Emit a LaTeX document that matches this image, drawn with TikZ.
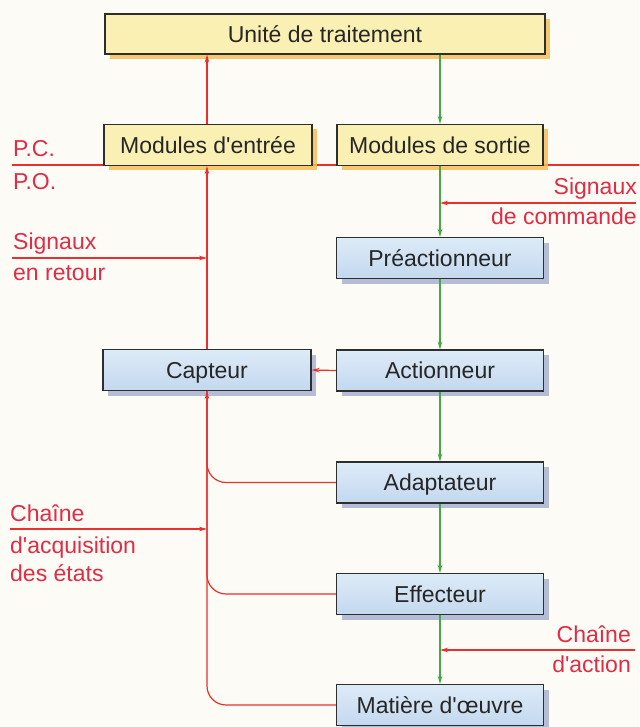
\documentclass[tikz,border=0pt]{standalone}
\usepackage{fontspec}
\setmainfont{Liberation Sans}
\usetikzlibrary{arrows.meta,shadows}
\newcommand{\apos}{\textquotesingle}
\definecolor{bg}{HTML}{FCFBF6}
\definecolor{yfill}{HTML}{FBF0B4}
\definecolor{yshad}{HTML}{F6BE55}
\definecolor{btop}{HTML}{DDEBF8}
\definecolor{bbot}{HTML}{C3D8EE}
\definecolor{bshad}{HTML}{A9B3CF}
\definecolor{rline}{HTML}{E8302E}
\definecolor{rtext}{HTML}{DE2D45}
\definecolor{gline}{HTML}{45A842}
\definecolor{boxline}{HTML}{2E2E2E}
\definecolor{boxtext}{HTML}{262626}
\begin{document}
\begin{tikzpicture}[x=1pt,y=-1pt,
  every node/.style={font=\fontsize{23}{27}\selectfont},
  boxtxt/.style={text=boxtext,inner sep=0pt,text height=16.5pt,text depth=0pt},
  ybox/.style={boxtxt,draw=boxline,line width=1.1pt,fill=yfill,
    drop shadow={shadow xshift=5pt,shadow yshift=-5pt,fill=yshad,opacity=.85}},
  bbox/.style={boxtxt,draw=boxline,line width=1.1pt,top color=btop,bottom color=bbot,
    minimum width=207pt,minimum height=41pt,
    drop shadow={shadow xshift=5pt,shadow yshift=-5pt,fill=bshad,opacity=.85}},
  rl/.style={draw=rline,line width=1.2pt},
  gl/.style={draw=gline,line width=1.2pt},
  tip/.style={-{Stealth[length=8pt,width=4.5pt]}},
  lab/.style={text=rtext,inner sep=0pt}
]
\useasboundingbox (0,0) rectangle (639,727);
\fill[bg] (0,0) rectangle (639,727);

% PC / PO separation line
\coordinate (pcl) at (12,165);
\coordinate (pcr) at (639,165);
\draw[rl] (pcl) -- (pcr);

% boxes
\node[ybox,minimum width=440pt,minimum height=40pt] (ut) at (325,34) {Unité de traitement};
\node[ybox,minimum width=208pt,minimum height=41pt] (me) at (208,145) {Modules d\apos entrée};
\node[ybox,minimum width=206pt,minimum height=41pt] (ms) at (440,145) {Modules de sortie};
\node[bbox] (pa) at (440,258) {Préactionneur};
\node[bbox,minimum width=208pt] (cap) at (207,370) {Capteur};
\node[bbox] (act) at (440,370.5) {Actionneur};
\node[bbox] (ad) at (440,482.5) {Adaptateur};
\node[bbox] (ef) at (440,594) {Effecteur};
\node[bbox] (mat) at (440,705) {Matière d\apos œuvre};

% green action chain
\draw[gl,tip] (ms.north |- ut.south) -- (ms.north);
\draw[gl,tip] (ms.south) -- (pa.north);
\draw[gl,tip] (pa.south) -- (act.north);
\draw[gl,tip] (act.south) -- (ad.north);
\draw[gl,tip] (ad.south) -- (ef.north);
\draw[gl,tip] (ef.south) -- (mat.north);

% red acquisition chain
\draw[rl,tip] (cap.north) -- (cap.north |- me.south);
\draw[rl,tip] (cap.north |- me.north) -- (cap.north |- ut.south);
\draw[rl,tip] (act.west) -- (cap.east);
\draw[rl,rounded corners=19pt] (ad.west) -| (cap.south);
\draw[rl,rounded corners=19pt] (ef.west) -| (cap.south);
\draw[rl,tip,rounded corners=19pt] (mat.west) -| (cap.south);

% side arrows
\coordinate (sc) at (636,203);
\draw[rl,tip] (sc) -- (sc -| ms.south);
\coordinate (sr) at (12,258);
\draw[rl,tip] (sr) -- (sr -| cap.north);
\coordinate (ca) at (10,529);
\draw[rl,tip] (ca) -- (ca -| cap.south);
\coordinate (cac) at (635,650);
\draw[rl,tip] (cac) -- (cac -| ef.south);

% labels
\node[lab,anchor=base west] (lpc) at (13,157) {P.C.};
\node[lab,anchor=base west] (lpo) at (13,190) {P.O.};
\node[lab,anchor=base east] (lsc1) at (637,195) {Signaux};
\node[lab,anchor=base east] (lsc2) at (637,225) {de commande};
\node[lab,anchor=base west] (lsr1) at (13,249) {Signaux};
\node[lab,anchor=base west] (lsr2) at (13,280) {en retour};
\node[lab,anchor=base west] (lca1) at (10,521) {Chaîne};
\node[lab,anchor=base west] (lca2) at (10,553) {d\apos acquisition};
\node[lab,anchor=base west] (lca3) at (10,581) {des états};
\node[lab,anchor=base east] (lcc1) at (631,642) {Chaîne};
\node[lab,anchor=base east] (lcc2) at (631,672) {d\apos action};
\end{tikzpicture}
\end{document}
